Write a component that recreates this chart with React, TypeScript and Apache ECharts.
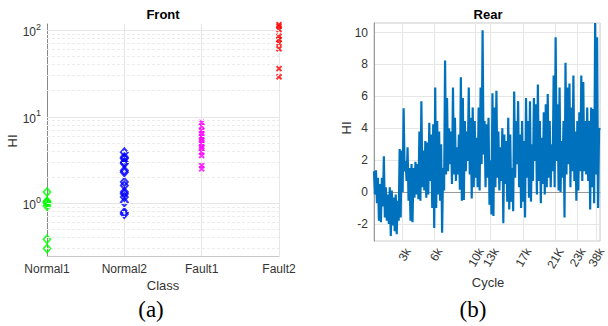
import React, { useEffect, useRef } from 'react';
import * as echarts from 'echarts';

// ---- Front (left) panel data ----
const classes = ['Normal1', 'Normal2', 'Fault1', 'Fault2'];
const normal1 = [1.35, 1.06, 1.03, 1.0, 0.93, 0.385, 0.3];
const normal2 = [3.89, 3.4, 3.29, 2.98, 2.88, 2.39, 2.29, 1.76, 1.61, 1.35, 1.29, 1.18, 1.03, 0.79, 0.75];
const fault1 = [8.6, 7.7, 6.9, 6.4, 5.9, 5.6, 5.3, 4.9, 4.5, 4.3, 3.9, 3.56, 2.73, 2.5];
const fault2 = [116, 111, 102, 85, 78, 71, 61, 36, 29];
const logMajor = [1, 10, 100];
const logMinor = [0.3, 0.4, 0.5, 0.6, 0.7, 0.8, 0.9, 2, 3, 4, 5, 6, 7, 8, 9, 20, 30, 40, 50, 60, 70, 80, 90];

// ---- Rear (right) panel data: per-column high / low envelope ----
const rearHigh = [
  1.3, 1.36, 0.9, 0.5, 0.9, 2.25, 0.3, -0.15, 0.3, 0.1, -0.35, -0.15, -0.55, 2.7, 2.6, 5.25, 1.95, 2.8, 1.5, 1.75, 1.5, 1.9, 1.75, 3.8, 5.7, 2.6, 3.2, 3.1, 4.35,
  3.6, 4.25, 6.55, 4.45, 3.8, 3.0, 1.5, 8.25, 5.9, 4.0, 3.8, 6.55, 4.65, 2.8, 3.6, 7.2, 5.9, 4.45, 3.8, 6.55, 4.65, 5.3, 4.45, 3.4, 5.3, 6.55, 10.15, 4.45, 4.25,
  4.65, 2.0, 6.2, 5.3, 6.35, 3.8, 2.8, 4.0, 3.6, 3.2, 4.65, 3.6, 1.5, 6.3, 4.45, 5.7, 3.6, 4.45, 3.2, 5.9, 4.45, 5.7, 3.0, 5.9, 5.5, 6.75, 4.45, 3.4, 5.0,
  5.5, 6.15, 4.45, 3.0, 7.3, 9.7, 5.5, 6.55, 3.2, 4.45, 8.1, 6.55, 6.8, 5.3, 7.3, 3.8, 4.45, 5.0, 7.3, 6.9, 4.45, 5.3, 4.45, 5.3, 5.2, 10.6, 9.7, 4.0,
];
const rearLow = [
  -0.15, -0.7, -1.8, -1.9, -0.9, -1.6, -1.8, -2.0, -2.76, -2.1, -2.45, -2.65, -1.8, -1.6, 0.0, 1.3, 0.7, -0.55, -1.8, -1.9, -0.35, -0.15, -0.45, -0.55, 0.3, 0.1, -0.35, -0.15, 0.7,
  -1.0, -2.25, -1.0, -0.15, -0.55, -2.55, 0.1, 1.1, 1.3, 1.75, 0.5, 1.1, 0.7, 1.1, 0.15, -0.55, -0.5, 1.3, 1.95, 1.1, -0.4, 0.3, 0.9, 0.3, 0.1, 1.75, 2.35, 0.3, 0.9,
  -0.8, -1.4, -1.5, 0.3, 0.9, 0.1, 0.7, -1.95, 0.5, -0.6, -1.1, -0.6, -1.2, 0.9, 1.75, 0.3, -1.0, -0.6, -1.6, 0.9, -0.35, -0.6, 0.7, 1.95, -0.15, 0.7, -0.7, 0.5, -0.15,
  0.3, 0.9, 0.3, 1.3, 0.3, 1.95, 0.1, 0.0, 0.9, -1.6, 1.1, 1.75, 0.3, 1.3, 0.7, -0.55, 0.1, 1.3, 0.7, 1.3, 1.1, 0.7, -1.1, 0.3, -0.7, 1.1, -1.0, 3.9,
];
const cycleTickIndex = [29, 61, 103, 118, 151, 184, 206, 225];
const cycleTickLabels = ['3k', '6k', '10k', '13k', '17k', '21K', '23k', '38k'];

const FONT = 'Liberation Sans, Arial, sans-serif';
const SERIF = 'Liberation Serif, Times New Roman, serif';
const TXT = '#333333';
const GRIDC = '#e6e6e6';

export default function App() {
  const ref = useRef<HTMLDivElement>(null);

  useEffect(() => {
    if (!ref.current) return;
    const chart = echarts.init(ref.current, undefined, { renderer: 'svg' });

    const rear: number[] = [];
    rearHigh.forEach((h, i) => {
      rear.push(h);
      rear.push(rearLow[i]);
    });
    const rearX = rear.map((_, i) => String(i));

    const xMark = 'path://M0,0L10,10M10,0L0,10';

    const option: any = {
      animation: false,
      textStyle: { fontFamily: FONT },
      grid: [
        { left: 47, top: 24, width: 232, height: 232, containLabel: false },
        { left: 374, top: 23, width: 229, height: 218, containLabel: false, show: true, borderColor: '#c8c8c8', borderWidth: 1 },
      ],
      xAxis: [
        {
          type: 'category',
          gridIndex: 0,
          data: classes,
          boundaryGap: false,
          axisLine: { lineStyle: { color: '#c8c8c8' } },
          axisTick: { show: false },
          axisLabel: { color: TXT, fontSize: 12, fontFamily: FONT, margin: 7 },
          splitLine: { show: true, lineStyle: { color: GRIDC, width: 1 } },
        },
        {
          type: 'category',
          gridIndex: 1,
          data: rearX,
          boundaryGap: false,
          axisLine: { lineStyle: { color: '#999' } },
          axisTick: { show: false },
          axisLabel: {
            interval: (i: number) => cycleTickIndex.includes(i),
            formatter: (_v: string, i: number) => {
              const k = cycleTickIndex.indexOf(i);
              return k >= 0 ? cycleTickLabels[k] : '';
            },
            rotate: 60,
            align: 'right',
            verticalAlign: 'top',
            color: TXT,
            fontSize: 12,
            fontFamily: FONT,
            margin: 5,
          },
          splitLine: {
            show: true,
            interval: (i: number) => cycleTickIndex.includes(i),
            lineStyle: { color: GRIDC },
          },
        },
      ],
      yAxis: [
        {
          type: 'log',
          logBase: 10,
          gridIndex: 0,
          min: 0.246,
          max: 118,
          axisLine: { show: true, lineStyle: { color: '#888' } },
          axisTick: { show: false },
          splitLine: { show: false },
          axisLabel: {
            margin: 6,
            formatter: (v: number) => {
              const l = Math.log10(v);
              const e = Math.round(l);
              if (Math.abs(l - e) > 1e-6) return '';
              return `{b|10}{s|${e}}`;
            },
            rich: {
              b: { fontSize: 12, color: TXT, fontFamily: FONT, verticalAlign: 'bottom' },
              s: { fontSize: 9, color: TXT, fontFamily: FONT, verticalAlign: 'top', padding: [0, 0, 7, 0] },
            },
          },
        },
        {
          type: 'value',
          gridIndex: 1,
          min: -3.07,
          max: 10.6,
          splitNumber: 7,
          minInterval: 2,
          maxInterval: 2,
          axisLine: { show: true, lineStyle: { color: '#999' } },
          axisTick: { show: false },
          splitLine: { show: true, lineStyle: { color: GRIDC } },
          axisLabel: {
            color: TXT,
            fontSize: 12,
            fontFamily: FONT,
            margin: 6,
            formatter: (v: number) => (Math.abs(v / 2 - Math.round(v / 2)) < 1e-9 ? String(Math.round(v)) : ''),
          },
        },
      ],
      series: [
        {
          type: 'scatter',
          xAxisIndex: 0,
          yAxisIndex: 0,
          data: normal1.map((v) => ['Normal1', v]),
          symbol: 'diamond',
          symbolSize: [7, 8],
          clip: false,
          itemStyle: { color: 'rgba(0,0,0,0)', borderColor: '#00ff00', borderWidth: 1.8 },
          markLine: {
            silent: true,
            symbol: 'none',
            label: { show: false },
            animation: false,
            data: [
              ...logMinor.map((v) => ({ yAxis: v, lineStyle: { color: '#ececec', type: [3, 2], width: 1 } })),
              ...logMajor.map((v) => ({ yAxis: v, lineStyle: { color: GRIDC, type: 'solid', width: 1 } })),
            ],
          },
          z: 3,
        },
        {
          type: 'scatter',
          xAxisIndex: 0,
          yAxisIndex: 0,
          data: normal2.map((v) => ['Normal2', v]),
          symbol: 'diamond',
          symbolSize: [7, 8],
          clip: false,
          itemStyle: { color: 'rgba(0,0,0,0)', borderColor: '#0000ff', borderWidth: 2 },
          z: 3,
        },
        {
          type: 'scatter',
          xAxisIndex: 0,
          yAxisIndex: 0,
          data: fault1.map((v) => ['Fault1', v]),
          symbol: xMark,
          symbolSize: 5,
          clip: false,
          itemStyle: { color: 'rgba(0,0,0,0)', borderColor: '#ff00ff', borderWidth: 2 },
          z: 3,
        },
        {
          type: 'scatter',
          xAxisIndex: 0,
          yAxisIndex: 0,
          data: fault2.map((v) => ['Fault2', v]),
          symbol: xMark,
          symbolSize: 5,
          clip: false,
          itemStyle: { color: 'rgba(0,0,0,0)', borderColor: '#ff0000', borderWidth: 2 },
          z: 3,
        },
        {
          type: 'line',
          xAxisIndex: 1,
          yAxisIndex: 1,
          data: rear,
          showSymbol: false,
          symbol: 'none',
          lineStyle: { color: '#0072BD', width: 2.2 },
          clip: true,
          z: 3,
        },
      ],
      graphic: [
        { type: 'text', x: 163, y: 14, style: { text: 'Front', font: `bold 13px ${FONT}`, fill: '#000', align: 'center', verticalAlign: 'middle' } },
        { type: 'text', x: 488, y: 14, style: { text: 'Rear', font: `bold 13px ${FONT}`, fill: '#000', align: 'center', verticalAlign: 'middle' } },
        { type: 'text', x: 163, y: 285, style: { text: 'Class', font: `13px ${FONT}`, fill: TXT, align: 'center', verticalAlign: 'middle' } },
        { type: 'text', x: 488, y: 282, style: { text: 'Cycle', font: `13px ${FONT}`, fill: TXT, align: 'center', verticalAlign: 'middle' } },
        { type: 'text', x: 12, y: 141, rotation: Math.PI / 2, style: { text: 'HI', font: `13px ${FONT}`, fill: TXT, align: 'center', verticalAlign: 'middle' } },
        { type: 'text', x: 346, y: 128, rotation: Math.PI / 2, style: { text: 'HI', font: `13px ${FONT}`, fill: TXT, align: 'center', verticalAlign: 'middle' } },
        { type: 'text', x: 151, y: 309, style: { text: '(a)', font: `23px ${SERIF}`, fill: '#000', align: 'center', verticalAlign: 'middle' } },
        { type: 'text', x: 473, y: 309, style: { text: '(b)', font: `23px ${SERIF}`, fill: '#000', align: 'center', verticalAlign: 'middle' } },
      ],
    };

    chart.setOption(option);
    return () => chart.dispose();
  }, []);

  return (
    <div
      ref={ref}
      style={{ position: 'fixed', left: 0, top: 0, width: 608, height: 326, background: '#fff' }}
    />
  );
}
